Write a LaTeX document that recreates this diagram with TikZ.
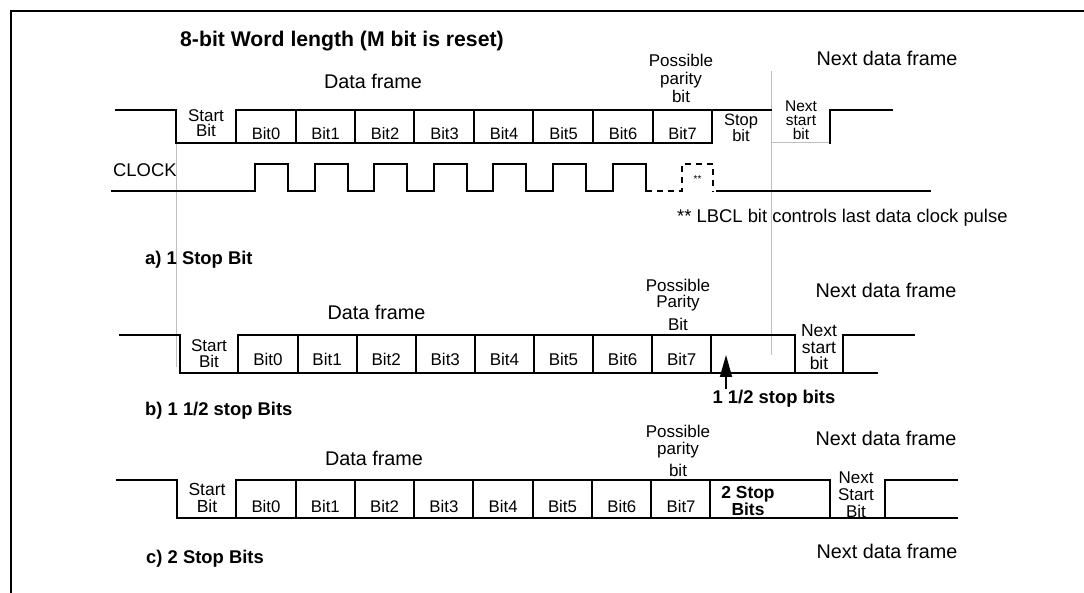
\documentclass[tikz,border=0pt]{standalone}
\usepackage{fontspec}
\setsansfont{Liberation Sans}
\usepackage{tikz}
\usetikzlibrary{arrows.meta,positioning}
\newcommand{\fs}[2]{\fontsize{#1}{#2}\selectfont}

\begin{document}
\begin{tikzpicture}[
    x=1pt,y=-1pt,
    font=\sffamily,
    >={Triangle[length=22pt,width=12pt]},
    wave/.style={draw=black,line width=2pt,line cap=rect},
    guide/.style={draw=black!25,line width=1pt},
    clkdash/.style={draw=black,line width=2pt,dash pattern=on 6pt off 5pt},
    pointer/.style={->,draw=black,line width=1.6pt},
    head/.style={font=\sffamily\bfseries\fs{18.4}{18},inner sep=0pt,anchor=base west},
    big/.style={font=\sffamily\fs{19.8}{20},inner sep=0pt,anchor=base},
    note/.style={font=\sffamily\fs{18.4}{18},inner sep=0pt,anchor=base west},
    cell/.style={font=\sffamily\fs{16.5}{16},inner sep=0pt,anchor=base},
    stack/.style={font=\sffamily\fs{17}{15.5},inner sep=0pt,anchor=base,align=center}
  ]
    \useasboundingbox (0,0) rectangle (1084,593);
    \draw[line width=2pt] (10.5,593) -- (10.5,11) -- (1084,11);

    % guide lines
    \draw[guide] (771,71) -- (771,355);
    \draw[guide] (176,143) -- (176,367);

    \node[head,font=\sffamily\bfseries\fs{21.2}{21}] (title) at (180,47)
      {8-bit Word length (M bit is reset)};

    % a) one stop bit (stack nodes sit on their last line)
    \node[big] (frameA) at (373,89) {Data frame};
    \node[stack,font=\sffamily\fs{17}{18.3}] (parA) at (681,103) {Possible\\parity\\bit};
    \node[big] (nextA) at (887,66) {Next data frame};
    \node[stack] (startA) at (206,137) {Start\\Bit};
    \node[stack,font=\sffamily\fs{16.5}{14}] (stopA) at (741,142) {Stop\\bit};
    \node[stack,font=\sffamily\fs{15.5}{14}] (nstartA) at (801,140) {Next\\start\\bit};
    \foreach \i in {0,...,7}
      \node[cell] (a\i) at ({266+59.5*\i},139.5) {Bit\i};

    \draw[wave] (116,110) -- (176,110) -- (176,143) -- (712,143);
    \draw[wave] (236,110) -- (771,110);
    \foreach \x in {236,296,355,414,474,533,593,653,712}
      \draw[wave] (\x,110) -- (\x,143);
    \draw[guide] (771,143) -- (830,143);
    \draw[wave] (830,143) -- (830,110) -- (892,110);

    % clock
    \node[note] (clk) at (113,177) {CLOCK};
    \draw[wave] (112,191) \foreach \k in {0,...,6}
      { -| ({255+59.6*\k},164) -| ({288+59.6*\k},191) };
    \draw[clkdash] (645.6,191) -- (682,191) -- (682,164) -- (713,164) -- (713,191);
    \draw[wave] (717,191) -- (930,191);
    \node[font=\sffamily\fs{10}{10},inner sep=0pt] (lbcl) at (697.5,179) {**};
    \node[note] (lbclnote) at (677,223) {** LBCL bit controls last data clock pulse};
    \node[head] (capA) at (145,265) {a) 1 Stop Bit};

    % b) one and a half stop bits
    \node[big] (frameB) at (376.5,320) {Data frame};
    \node[stack,font=\sffamily\fs{17}{16}] (parB) at (678,331) {Possible\\Parity\\[7pt]Bit};
    \node[big] (nextB) at (886,298) {Next data frame};
    \node[stack,font=\sffamily\fs{17}{15.5}] (startB) at (209,367) {Start\\Bit};
    \node[stack,font=\sffamily\fs{17.5}{16.5}] (nstartB) at (819,370) {Next\\start\\bit};
    \foreach \i in {0,...,7}
      \node[cell,font=\sffamily\fs{17}{17}] (b\i) at ({268+59.1*\i},366) {Bit\i};

    \draw[wave] (120,335) -- (180,335) -- (180,373) -- (877,373);
    \draw[wave] (238,335) -- (795,335) -- (795,373);
    \foreach \x in {238,298,357,416,475,534,593,652,711}
      \draw[wave] (\x,335) -- (\x,373);
    \draw[wave] (843,373) -- (843,335) -- (914,335);

    \node[head,anchor=base] (halfB) at (774,403) {1 1/2 stop bits};
    \coordinate (halftip) at (726,355);
    \draw[pointer] (halfB.north -| halftip) -- (halftip);
    \node[head] (capB) at (145,415) {b) 1 1/2 stop Bits};

    % c) two stop bits
    \node[big] (frameC) at (374,465) {Data frame};
    \node[stack,font=\sffamily\fs{17}{17}] (parC) at (678,476) {Possible\\parity\\[5pt]bit};
    \node[big] (nextC) at (886,445) {Next data frame};
    \node[stack,font=\sffamily\fs{17.5}{17}] (startC) at (207,512) {Start\\Bit};
    \node[stack,font=\sffamily\bfseries\fs{17.4}{17}] (twoC) at (748,515) {2 Stop\\Bits};
    \node[stack,font=\sffamily\fs{17}{17}] (nstartC) at (856,517) {Next\\Start\\Bit};
    \foreach \i in {0,...,7}
      \node[cell,font=\sffamily\fs{16.8}{17}] (c\i) at ({266+59.3*\i},512) {Bit\i};

    \draw[wave] (117,480) -- (177,480) -- (177,518) -- (957,518);
    \draw[wave] (236,480) -- (830,480) -- (830,518);
    \foreach \x in {236,296,355,414,473,533,592,651,710}
      \draw[wave] (\x,480) -- (\x,518);
    \draw[wave] (885,518) -- (885,480) -- (957,480);

    \node[big] (nextC2) at (887,558) {Next data frame};
    \node[head] (capC) at (146,563) {c) 2 Stop Bits};
  \end{tikzpicture}
\end{document}
